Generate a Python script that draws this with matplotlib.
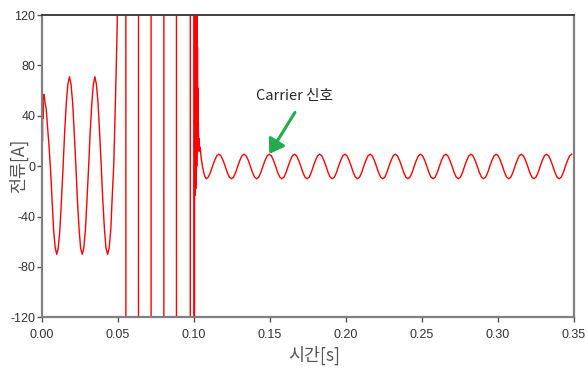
"""
전류 파형 그래프 (Carrier 신호 표시)
"""
import numpy as np
import matplotlib.pyplot as plt

# 폰트 설정
plt.rcParams['font.family'] = ['Liberation Sans', 'DejaVu Sans']
plt.rcParams['axes.unicode_minus'] = False
KR = ['Noto Sans CJK KR', 'DejaVu Sans']

# 0 ~ 0.05 s : 초기 전류 (60 Hz)
t_start = [0.0000, 0.0001, 0.0002, 0.0003, 0.0004, 0.0005, 0.0006, 0.0008,
           0.0010, 0.0014, 0.0018, 0.0022, 0.0026, 0.0030, 0.0036, 0.0047,
           0.0057, 0.0068, 0.0078, 0.0089, 0.0099, 0.0109, 0.0120, 0.0130,
           0.0141, 0.0151, 0.0162, 0.0172, 0.0183, 0.0193, 0.0204, 0.0214,
           0.0225, 0.0235, 0.0246, 0.0256, 0.0267, 0.0277, 0.0288, 0.0298,
           0.0309, 0.0319, 0.0330, 0.0340, 0.0350, 0.0360, 0.0371, 0.0381,
           0.0392, 0.0402, 0.0413, 0.0423, 0.0434, 0.0444, 0.0455, 0.0465,
           0.0474, 0.0486, 0.0497]
i_start = [0, -55, 30, -10, 45, 20, 50, 38,
           55, 57, 55, 50, 48, 45, 35, 18,
           0, -27, -50, -65, -70, -65, -50, -27,
           0, 27, 50, 65, 71, 65, 50, 27,
           0, -27, -50, -65, -70, -65, -50, -27,
           0, 27, 50, 65, 71, 65, 50, 27,
           0, -27, -50, -65, -70, -65, -50, -22,
           0, 55, 112]

# 0.05 ~ 0.1007 s : 축 범위를 벗어나는 큰 진동 (±2000 은 화면 밖)
t_osc = [0.0502, 0.0553, 0.0555, 0.0636, 0.0638, 0.0719, 0.0721, 0.0803,
         0.0805, 0.0886, 0.0888, 0.0977, 0.0979, 0.1001, 0.1003, 0.1005,
         0.1007]
i_osc = [2000, 2000, -2000, -2000, 2000, 2000, -2000, -2000,
         2000, 2000, -2000, -2000, 2000, 2000, -2000, -2000,
         2000]

# 0.1008 ~ 0.1075 s : 고주파 잡음 후 감쇠
t_noise = [0.1008, 0.1009, 0.1010, 0.1011, 0.1012, 0.1013, 0.1014, 0.1015,
           0.1016, 0.1017, 0.1018, 0.1019, 0.1020, 0.1021, 0.1022, 0.1023,
           0.1024, 0.1025, 0.1026, 0.1027, 0.1028, 0.1029, 0.1030, 0.1031,
           0.1033, 0.1035, 0.1038, 0.1043, 0.1050, 0.1058, 0.1066, 0.1075]
i_noise = [-20, 500, -23, 420, -15, 350, -18, 300,
           -10, 260, -5, 200, 0, 150, 10, 120,
           8, 95, 20, 62, 25, 50, 15, 35,
           12, 22, 12, 15, 6, 0, -5, -8.5]

# 0.1083 s 이후 : Carrier 신호 (일정 간격 샘플)
carrier_t0 = 0.1083
carrier_dt = 0.0013825
i_carrier = [
    -10, -8.7, -5, 0, 4.6, 8.2, 9.5, 8.2, 4.6, 0, -5, -8.7,
    -10, -8.7, -5, 0, 4.6, 8.2, 9.5, 8.2, 4.6, 0, -5, -8.7,
    -10, -8.7, -5, 0, 4.6, 8.2, 9.5, 8.2, 4.6, 0, -5, -8.7,
    -10, -8.7, -5, 0, 4.6, 8.2, 9.5, 8.2, 4.6, 0, -5, -8.7,
    -10, -8.7, -5, 0, 4.6, 8.2, 9.5, 8.2, 4.6, 0, -5, -8.7,
    -10, -8.7, -5, 0, 4.6, 8.2, 9.5, 8.2, 4.6, 0, -5, -8.7,
    -10, -8.7, -5, 0, 4.6, 8.2, 9.5, 8.2, 4.6, 0, -5, -8.7,
    -10, -8.7, -5, 0, 4.6, 8.2, 9.5, 8.2, 4.6, 0, -5, -8.7,
    -10, -8.7, -5, 0, 4.6, 8.2, 9.5, 8.2, 4.6, 0, -5, -8.7,
    -10, -8.7, -5, 0, 4.6, 8.2, 9.5, 8.2, 4.6, 0, -5, -8.7,
    -10, -8.7, -5, 0, 4.6, 8.2, 9.5, 8.2, 4.6, 0, -5, -8.7,
    -10, -8.7, -5, 0, 4.6, 8.2, 9.5, 8.2, 4.6, 0, -5, -8.7,
    -10, -8.7, -5, 0, 4.6, 8.2, 9.5, 8.2, 4.6, 0, -5, -8.7,
    -10, -8.7, -5, 0, 4.6, 8.2, 9.5, 8.2, 4.6, 0, -5, -8.7,
    -10, -8.7, -5, 0, 4.6, 8.2, 9.5,
]

x_ticks = [0.00, 0.05, 0.10, 0.15, 0.20, 0.25, 0.30, 0.35]
y_ticks = [-120, -80, -40, 0, 40, 80, 120]

t_carrier = carrier_t0 + carrier_dt * np.arange(len(i_carrier))
t = np.concatenate([t_start, t_osc, t_noise, t_carrier])
cur = np.concatenate([i_start, i_osc, i_noise, i_carrier])

fig, ax = plt.subplots(figsize=(5.88, 3.70), dpi=100)
fig.subplots_adjust(left=41.7 / 588, right=573.5 / 588,
                    top=1 - 15 / 370, bottom=1 - 317.3 / 370)

ax.plot(t, cur, color='#ff0000', lw=1.0)

ax.set_xlim(0, 0.35)
ax.set_ylim(-120, 120)
ax.set_xticks(x_ticks)
ax.set_xticklabels([f'{v:.2f}' for v in x_ticks])
ax.set_yticks(y_ticks)
ax.set_yticklabels([str(v) for v in y_ticks])
ax.tick_params(axis='both', labelsize=9, colors='#333333', length=3.5,
               width=1.0, color='#555555')
ax.tick_params(axis='x', pad=5)
ax.tick_params(axis='y', pad=1)

for side in ['left', 'bottom', 'right']:
    ax.spines[side].set_color('#808080')
    ax.spines[side].set_linewidth(1.6)
ax.spines['top'].set_color('#404040')
ax.spines['top'].set_linewidth(1.4)

ax.set_xlabel('시간[s]', family=KR, fontsize=12.5, color='#555555')
ax.set_ylabel('전류[A]', family=KR, fontsize=12.5, color='#555555')
ax.xaxis.set_label_coords(0.512, -0.095)
ax.yaxis.set_label_coords(-0.026, 0.5)

# Carrier 신호 표시
ax.text(0.1663, 55.7, 'Carrier 신호', family=KR, fontsize=10.5,
        color='#262626', ha='center', va='center')
ax.annotate('', xy=(0.1498, 9.7), xytext=(0.1667, 42.7),
            arrowprops=dict(arrowstyle='-|>,head_length=0.6,head_width=0.4',
                            color='#1fae4b', lw=2.2, mutation_scale=14,
                            shrinkA=0, shrinkB=0))

plt.savefig('out.png', dpi=100)
plt.close()
